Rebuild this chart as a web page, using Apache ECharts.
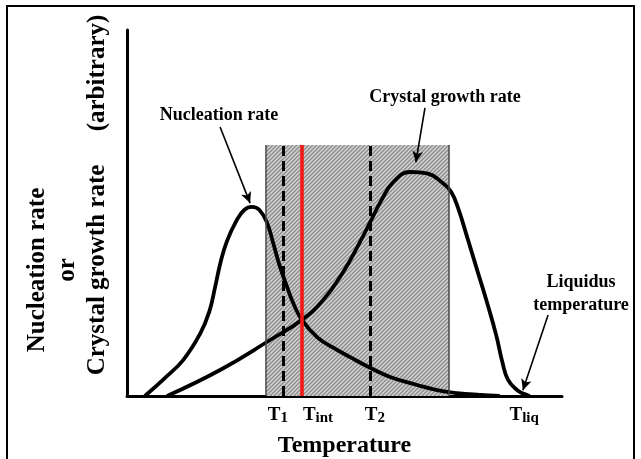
<!DOCTYPE html>
<html><head><meta charset="utf-8">
<script src="https://cdn.jsdelivr.net/npm/echarts@6/dist/echarts.min.js"></script>
<style>html,body{margin:0;padding:0;background:#fff}#c{width:641px;height:459px}</style>
</head><body><div id="c"></div>
<script>
// ---- data (x = temperature, arbitrary 0..100; y = rate, arbitrary 0..100) ----
const nucleationRate = [[4.1,0],[8.7,4.9],[12.9,9.8],[16.8,17.0],[18.9,23.0],[20.3,30.0],[21.5,36.5],[23.0,42.4],[25.2,48.0],[27.0,50.9],[28.7,51.7],[30.4,50.9],[32.2,47.3],[33.6,41.8],[35.2,35.2],[36.8,29.8],[38.2,25.4],[40.2,20.8],[43.7,16.1],[47.4,13.2],[51.3,10.6],[55.9,7.7],[60.5,5.2],[66.7,3.0],[71.3,1.6],[75.9,0.8],[81.1,0.3],[85.7,0]];
const growthRate = [[9.2,0],[21.4,7.1],[32.9,15.3],[40.2,20.8],[45.1,26.2],[49.7,33.9],[53.3,41.5],[55.9,47.5],[58.4,53.3],[61.1,58.3],[65.1,61.2],[69.0,60.8],[72.6,58.2],[74.5,55.8],[76.1,51.4],[78.2,43.4],[80.5,34.4],[82.8,25.4],[84.9,16.5],[86.3,9.2],[87.6,4.4],[89.7,1.6],[91.2,0.6],[92.6,0]];
const tickPos = [34.7, 43.9, 57.0, 91.3];
const tickMain = ['T','T','T','T'];
const tickSub = ['1','int','2','liq'];
const T1 = 35.9, Tint = 40.2, T2 = 55.9;
const windowRange = [32, 74];
const windowTop = 68.6;
const arrowNucleation = [[21.4,73.5],[28.3,52.7]];
const arrowGrowth = [[68.5,78.7],[66.4,63.9]];
const arrowLiquidus = [[96.8,22.1],[91.0,1.6]];

const FONT = '"Liberation Serif", "Times New Roman", serif';

function hatch(){
  const c=document.createElement('canvas');c.width=4;c.height=4;
  const g=c.getContext('2d');
  g.fillStyle='#8e8e8e';g.fillRect(0,0,4,4);
  g.strokeStyle='#d6d6d6';g.lineWidth=1.3;g.beginPath();
  g.moveTo(0,4);g.lineTo(4,0);g.moveTo(-1,1);g.lineTo(1,-1);g.moveTo(3,5);g.lineTo(5,3);
  g.stroke();return c;
}

const chart = echarts.init(document.getElementById('c'), null, {renderer:'canvas'});
const arrowLine = (a) => [{coord:a[0], symbol:'none', lineStyle:{color:'#000', width:1.6, type:'solid'}},{coord:a[1], symbol:'arrow'}];
const vline = (x, style) => [{coord:[x,0], symbol:'none', lineStyle:style},{coord:[x,windowTop], symbol:'none'}];

chart.setOption({
  animation:false,
  grid:{left:127, right:79, top:30, bottom:63, outerBoundsMode:'none', containLabel:false},
  xAxis:{type:'value', min:0, max:100,
    axisLine:{show:true, lineStyle:{color:'#000', width:3}},
    axisTick:{show:false}, splitLine:{show:false},
    axisLabel:{show:true, customValues:tickPos, margin:10, color:'#000',
      formatter:(v)=>{const i=tickPos.indexOf(v); return i<0?'':'{t|'+tickMain[i]+'}{s|'+tickSub[i]+'}';},
      rich:{
        t:{fontFamily:FONT, fontWeight:'bold', fontSize:19, lineHeight:20, verticalAlign:'top', color:'#000'},
        s:{fontFamily:FONT, fontWeight:'bold', fontSize:15, lineHeight:14, verticalAlign:'bottom', padding:[9,0,0,0], color:'#000'}
      }},
    name:'Temperature', nameLocation:'middle', nameGap:38,
    nameTextStyle:{fontFamily:FONT, fontWeight:'bold', fontSize:24, color:'#000'}
  },
  yAxis:{type:'value', min:0, max:100,
    axisLine:{show:true, lineStyle:{color:'#000', width:3}},
    axisTick:{show:false}, axisLabel:{show:false}, splitLine:{show:false}},
  series:[
    {type:'line', name:'Nucleation rate', data:nucleationRate, smooth:0.45, symbol:'none',
     lineStyle:{color:'#000', width:3.8}, z:3,
     markArea:{silent:true, itemStyle:{color:{image:hatch(), repeat:'repeat'}, borderWidth:0},
       data:[[{coord:[windowRange[0],0]},{coord:[windowRange[1],windowTop]}]]},
     markLine:{silent:true, symbolSize:[8,11], label:{show:false}, animation:false,
       data:[
         vline(windowRange[0], {color:'#444', width:1.5, type:'solid'}),
         vline(windowRange[1], {color:'#444', width:1.5, type:'solid'}),
         vline(T1, {color:'#000', width:3, type:[10,5]}),
         vline(T2, {color:'#000', width:3, type:[10,5]}),
         vline(Tint, {color:'#f01a14', width:3.6, type:'solid'}),
         arrowLine(arrowNucleation), arrowLine(arrowGrowth), arrowLine(arrowLiquidus)
       ]}
    },
    {type:'line', name:'Crystal growth rate', data:growthRate, smooth:0.45, symbol:'none',
     lineStyle:{color:'#000', width:3.8}, z:3}
  ],
  graphic:[
    {type:'rect', silent:true, shape:{x:7, y:6, width:627, height:470}, style:{fill:null, stroke:'#000', lineWidth:2}},
    {type:'text', silent:true, x:219, y:115, style:{text:'Nucleation rate', font:'bold 18px '+FONT, fill:'#000', align:'center', verticalAlign:'middle'}},
    {type:'text', silent:true, x:445, y:97, style:{text:'Crystal growth rate', font:'bold 18px '+FONT, fill:'#000', align:'center', verticalAlign:'middle'}},
    {type:'text', silent:true, x:581, y:294, style:{text:'Liquidus\ntemperature', font:'bold 18px '+FONT, lineHeight:23, fill:'#000', align:'center', verticalAlign:'middle'}},
    {type:'text', silent:true, x:68, y:270, rotation:Math.PI/2, style:{text:'Nucleation rate\nor\nCrystal growth rate', font:'bold 25px '+FONT, lineHeight:30, fill:'#000', align:'center', verticalAlign:'middle'}},
    {type:'text', silent:true, x:98, y:73, rotation:Math.PI/2, style:{text:'(arbitrary)', font:'bold 25px '+FONT, fill:'#000', align:'center', verticalAlign:'middle'}}
  ]
});
</script></body></html>
